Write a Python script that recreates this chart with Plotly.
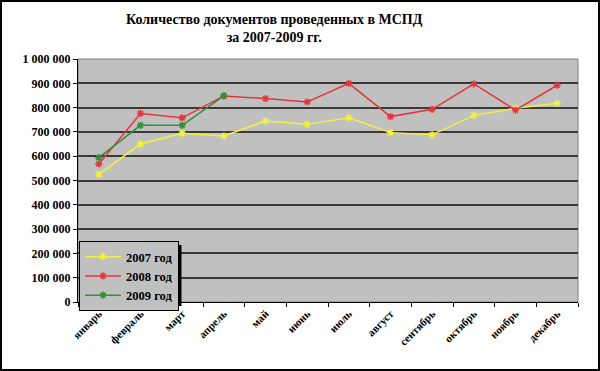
import plotly.graph_objects as go

months = ["январь", "февраль", "март", "апрель", "май", "июнь", "июль",
          "август", "сентябрь", "октябрь", "ноябрь", "декабрь"]
y2007 = [525000, 650000, 694000, 683000, 745000, 731000, 758000, 697000, 688000, 768000, 797000, 818000]
y2008 = [568000, 776000, 758000, 848000, 837000, 823000, 900000, 763000, 793000, 898000, 790000, 892000]
y2009 = [594000, 727000, 727000, 848000]
series_names = ["2007 год", "2008 год", "2009 год"]
colors = ["#f2f23a", "#e8333a", "#2f8f3a"]

W, H = 600, 371
L, R, T, B = 78, 22, 59, 69
pw, ph = W - L - R, H - T - B

def px(x):
    return (x - L) / pw

def py(y):
    return (H - B - y) / ph

fig = go.Figure()
for name, vals, c in zip(series_names, [y2007, y2008, y2009], colors):
    fig.add_trace(go.Scatter(
        x=months[:len(vals)], y=vals, name=f"<b>{name}</b>", mode="lines+markers",
        line=dict(color=c, width=1.5),
        marker=dict(symbol="asterisk-open", size=6, color=c, line=dict(color=c, width=1.5)),
    ))

font_family = "Liberation Serif, Times New Roman, serif"
ytick_vals = list(range(0, 1000001, 100000))
ytick_text = [f"<b>{v:,}</b>".replace(",", " ") for v in ytick_vals]

fig.update_layout(
    width=W, height=H,
    margin=dict(l=L, r=R, t=T, b=B),
    paper_bgcolor="white",
    plot_bgcolor="#c0c0c0",
    font=dict(family=font_family, size=11, color="black"),
    annotations=[dict(
        text="<b>Количество документов проведенных в МСПД<br>за 2007-2009 гг.</b>",
        xref="paper", yref="paper", x=px(274), y=py(29),
        xanchor="center", yanchor="middle", showarrow=False,
        font=dict(family=font_family, size=14, color="black"),
    )],
    xaxis=dict(
        type="category", categoryorder="array", categoryarray=months,
        range=[-0.5, 11.5],
        tickson="boundaries", ticks="outside", ticklen=4, tickcolor="black",
        showline=True, linecolor="black", linewidth=1,
        tickangle=-45, showgrid=False,
        tickfont=dict(family=font_family, size=11, color="black"),
        ticktext=[f"<b>{m}</b>" for m in months], tickvals=months,
    ),
    yaxis=dict(
        range=[0, 1000000], tickvals=ytick_vals, ticktext=ytick_text,
        ticks="outside", ticklen=4, tickcolor="black",
        showline=True, linecolor="black", linewidth=1,
        showgrid=True, gridcolor="#3a3a3a", gridwidth=1.5,
        tickfont=dict(family=font_family, size=12, color="black"),
        zeroline=False,
    ),
    legend=dict(
        x=px(79), y=py(241), xanchor="left", yanchor="top",
        bgcolor="#c0c0c0", bordercolor="black", borderwidth=1,
        font=dict(family=font_family, size=12.5, color="black"),
        itemwidth=36,
    ),
    shapes=[
        dict(type="rect", xref="paper", yref="paper",
             x0=px(1), x1=px(W - 1), y0=py(H - 1), y1=py(1),
             line=dict(color="black", width=2), layer="below"),
        dict(type="rect", xref="paper", yref="paper",
             x0=px(L), x1=px(W - R), y0=py(H - B), y1=py(T),
             line=dict(color="#808080", width=1), layer="below"),
        dict(type="rect", xref="paper", yref="paper",
             x0=px(82), x1=px(181.5), y0=py(306), y1=py(245),
             line=dict(width=0), fillcolor="black", layer="above"),
    ],
)

fig.write_html("out.html", config={"displayModeBar": False},
               post_script="document.body.style.margin='0';")
